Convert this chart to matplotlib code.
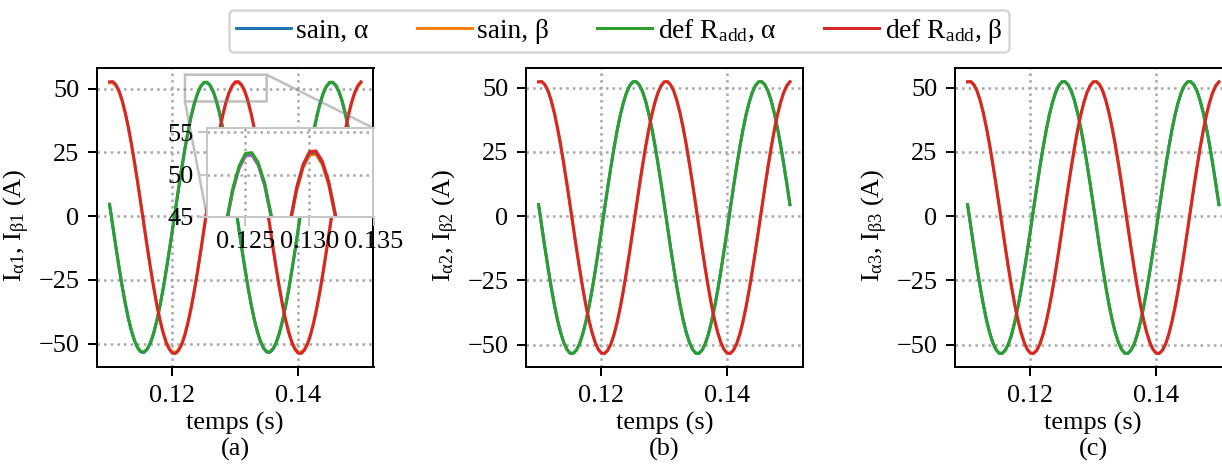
import numpy as np
import matplotlib
matplotlib.use("Agg")
import matplotlib.pyplot as plt

plt.rcParams['font.family'] = 'serif'
plt.rcParams['font.serif'] = ['Liberation Serif', 'DejaVu Serif']
plt.rcParams['mathtext.fontset'] = 'custom'
plt.rcParams['mathtext.rm'] = 'Liberation Serif'
plt.rcParams['mathtext.it'] = 'Liberation Serif:italic'
plt.rcParams['mathtext.bf'] = 'Liberation Serif:bold'
plt.rcParams['font.size'] = 10.5

# sampling instants (0.5 ms step, 0.110 -> 0.150 s)
temps = np.round(0.11 + 0.0005 * np.arange(81), 4)

# values (A)
sain_alpha = [4.5, -3.8, -12.1, -20.0, -27.5, -34.3, -40.3, -45.2, -49.1, -51.8, -53.3, -53.4, -52.2, -49.8,
              -46.1, -41.3, -35.5, -28.9, -21.5, -13.7, -5.5, 2.8, 11.1, 19.0, 26.5, 33.3, 39.3, 44.2, 48.1, 50.8,
              52.3, 52.4, 51.2, 48.8, 45.1, 40.3, 34.5, 27.9, 20.5, 12.7, 4.5, -3.8, -12.1, -20.0, -27.5, -34.3,
              -40.3, -45.2, -49.1, -51.8, -53.3, -53.4, -52.2, -49.8, -46.1, -41.3, -35.5, -28.9, -21.5, -13.7,
              -5.5, 2.8, 11.1, 19.0, 26.5, 33.3, 39.3, 44.2, 48.1, 50.8, 52.3, 52.4, 51.2, 48.8, 45.1, 40.3, 34.5,
              27.9, 20.5, 12.7, 4.5]
sain_beta = [52.3, 52.4, 51.2, 48.8, 45.1, 40.3, 34.5, 27.9, 20.5, 12.7, 4.5, -3.8, -12.1, -20.0, -27.5, -34.3,
             -40.3, -45.2, -49.1, -51.8, -53.3, -53.4, -52.2, -49.8, -46.1, -41.3, -35.5, -28.9, -21.5, -13.7,
             -5.5, 2.8, 11.1, 19.0, 26.5, 33.3, 39.3, 44.2, 48.1, 50.8, 52.3, 52.4, 51.2, 48.8, 45.1, 40.3, 34.5,
             27.9, 20.5, 12.7, 4.5, -3.8, -12.1, -20.0, -27.5, -34.3, -40.3, -45.2, -49.1, -51.8, -53.3, -53.4,
             -52.2, -49.8, -46.1, -41.3, -35.5, -28.9, -21.5, -13.7, -5.5, 2.8, 11.1, 19.0, 26.5, 33.3, 39.3,
             44.2, 48.1, 50.8, 52.3]
def_alpha_1 = [4.7, -3.6, -11.9, -19.8, -27.3, -34.1, -40.1, -45.0, -48.9, -51.6, -53.1, -53.2, -52.0, -49.6,
               -45.9, -41.1, -35.3, -28.7, -21.3, -13.5, -5.3, 3.0, 11.3, 19.2, 26.7, 33.5, 39.5, 44.4, 48.3, 51.0,
               52.5, 52.6, 51.4, 49.0, 45.3, 40.5, 34.7, 28.1, 20.7, 12.9, 4.7, -3.6, -11.9, -19.8, -27.3, -34.1,
               -40.1, -45.0, -48.9, -51.6, -53.1, -53.2, -52.0, -49.6, -45.9, -41.1, -35.3, -28.7, -21.3, -13.5,
               -5.3, 3.0, 11.3, 19.2, 26.7, 33.5, 39.5, 44.4, 48.3, 51.0, 52.5, 52.6, 51.4, 49.0, 45.3, 40.5, 34.7,
               28.1, 20.7, 12.9, 4.7]
def_beta_1 = [52.7, 52.8, 51.6, 49.2, 45.5, 40.6, 34.8, 28.1, 20.7, 12.8, 4.5, -3.8, -12.2, -20.2, -27.7, -34.6,
              -40.6, -45.6, -49.5, -52.2, -53.7, -53.8, -52.6, -50.2, -46.5, -41.6, -35.8, -29.1, -21.7, -13.8,
              -5.5, 2.8, 11.2, 19.2, 26.7, 33.6, 39.6, 44.6, 48.5, 51.2, 52.7, 52.8, 51.6, 49.2, 45.5, 40.6, 34.8,
              28.1, 20.7, 12.8, 4.5, -3.8, -12.2, -20.2, -27.7, -34.6, -40.6, -45.6, -49.5, -52.2, -53.7, -53.8,
              -52.6, -50.2, -46.5, -41.6, -35.8, -29.1, -21.7, -13.8, -5.5, 2.8, 11.2, 19.2, 26.7, 33.6, 39.6,
              44.6, 48.5, 51.2, 52.7]
# panels (b) and (c): faulty curves lie on top of the healthy ones at this scale
def_alpha_2 = sain_alpha
def_beta_2 = sain_beta
def_alpha_3 = sain_alpha
def_beta_3 = sain_beta

# two extra traces only visible in the zoom of panel (a), 0.121 -> 0.136 s
temps_zoom = temps[22:53]
zoom_c4 = [11.0, 18.9, 26.4, 33.2, 39.2, 44.1, 48.0, 50.7, 52.2, 52.3, 51.1, 48.7, 45.0, 40.2, 34.4, 27.8, 20.4,
           12.6, 4.4, -3.9, -12.2, -20.1, -27.6, -34.4, -40.4, -45.3, -49.2, -51.9, -53.4, -53.5, -52.3]
zoom_c5 = [-52.0, -49.6, -45.9, -41.1, -35.3, -28.7, -21.3, -13.5, -5.3, 3.0, 11.3, 19.2, 26.7, 33.5, 39.5, 44.4,
           48.3, 51.0, 52.5, 52.6, 51.4, 49.0, 45.3, 40.5, 34.7, 28.1, 20.7, 12.9, 4.7, -3.6, -11.9]

labels = ['sain, α', 'sain, β', r'def R$_\mathrm{add}$, α', r'def R$_\mathrm{add}$, β']
panels = [('1', '(a)', def_alpha_1, def_beta_1),
          ('2', '(b)', def_alpha_2, def_beta_2),
          ('3', '(c)', def_alpha_3, def_beta_3)]

W, H = 1222, 464
fig = plt.figure(figsize=(W / 180, H / 180), dpi=180)
lefts = [97, 526, 955]
lw = 1.2

axes = []
for left, (idx, tag, d_a, d_b) in zip(lefts, panels):
    ax = fig.add_axes([left / W, 1 - 367 / H, 276.5 / W, 299 / H])
    ax.plot(temps, sain_alpha, color='C0', lw=lw, label=labels[0])
    ax.plot(temps, sain_beta, color='C1', lw=lw, label=labels[1])
    ax.plot(temps, d_a, color='C2', lw=lw, label=labels[2])
    ax.plot(temps, d_b, color='C3', lw=lw, label=labels[3])
    ax.set_xticks([0.12, 0.14])
    ax.set_yticks([-50, -25, 0, 25, 50])
    ax.grid(True, linestyle=':', color='0.65', linewidth=1.0)
    ax.set_xlabel('temps (s)\n' + tag, labelpad=2)
    ax.set_ylabel(r'$\mathrm{I}_{\mathrm{α%s}}$, $\mathrm{I}_{\mathrm{β%s}}$ (A)' % (idx, idx))
    ax.yaxis.set_label_coords(-0.235, 0.473)
    axes.append(ax)

# zoom on the peaks of panel (a)
ax1 = axes[0]
axins = ax1.inset_axes([0.398, 0.502, 0.602, 0.297])
axins.plot(temps, sain_alpha, color='C0', lw=lw)
axins.plot(temps, sain_beta, color='C1', lw=lw)
axins.plot(temps_zoom, zoom_c4, color='C4', lw=lw)
axins.plot(temps, def_alpha_1, color='C2', lw=lw)
axins.plot(temps_zoom, zoom_c5, color='C5', lw=lw)
axins.plot(temps, def_beta_1, color='C3', lw=lw)
axins.set_xlim(0.122, 0.135)
axins.set_ylim(45, 55.5)
axins.set_xticks([0.125, 0.130, 0.135])
axins.set_xticklabels(['0.125', '0.130', '0.135'])
axins.set_yticks([45, 50, 55])
axins.grid(True, linestyle=':', color='0.65', linewidth=1.0)
for s in axins.spines.values():
    s.set_edgecolor('0.78')
axins.tick_params(color='0.78', pad=2)
ax1.indicate_inset_zoom(axins, edgecolor='0.5', linewidth=1.0)

handles, _ = ax1.get_legend_handles_labels()
fig.legend(handles, labels, loc='upper center', ncol=4, bbox_to_anchor=(619 / W, 1.0),
           borderaxespad=0.35, handlelength=2.0, handletextpad=0.2, columnspacing=1.75, borderpad=0.25,
           fontsize=11)

fig.savefig('out.png', dpi=180)
